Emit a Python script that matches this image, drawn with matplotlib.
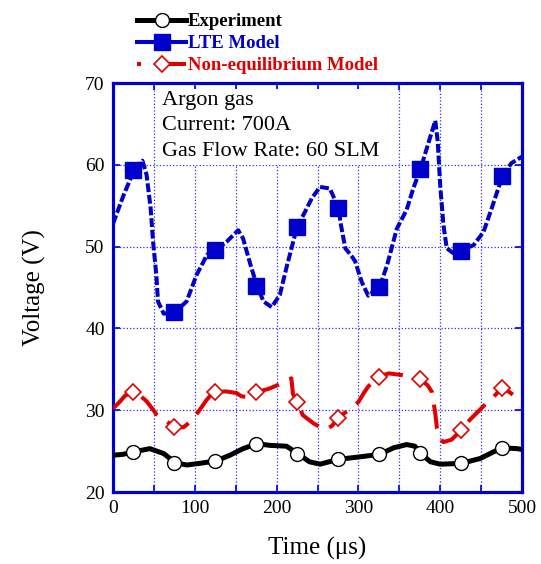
import matplotlib.pyplot as plt
from matplotlib.lines import Line2D
from matplotlib.patches import Rectangle

plt.rcParams['font.family'] = ['Liberation Serif', 'DejaVu Serif']

# ------------------------------
# Data
# ------------------------------
# Experiment (black, solid)
exp_t = [0, 12, 25, 45, 62, 76, 90, 106, 126, 143, 159, 176, 192, 212,
         226, 240, 253, 276, 302, 326, 343, 359, 369, 375, 388, 400, 426,
         449, 465, 476, 494, 500]
exp_v = [24.5, 24.6, 24.9, 25.3, 24.7, 23.6, 23.3, 23.5, 23.8, 24.5, 25.3, 25.9,
         25.7, 25.6, 24.7, 23.7, 23.4, 24.0, 24.3, 24.6, 25.4, 25.8, 25.6, 24.8,
         23.7, 23.4, 23.5, 24.1, 24.9, 25.4, 25.3, 25.2]

# LTE model (blue, dashed)
lte_t = [0, 13, 26, 36, 41, 46, 49, 53, 55, 62, 76, 90, 102, 115, 126, 139,
         153, 159, 168, 176, 184, 194, 204, 212, 225, 235, 243, 253, 265,
         276, 278, 284, 292, 296, 304, 312, 326, 335, 347, 359, 367, 376,
         386, 394, 397, 400, 404, 408, 416, 426, 441, 453, 463, 476, 487, 500]
lte_v = [52.8, 56.3, 59.4, 60.5, 58.8, 54.7, 50.6, 46.5, 43.3, 41.8, 42.0, 43.3,
         46.5, 49.0, 49.6, 50.6, 52.0, 51.0, 47.8, 45.2, 43.3, 42.6, 44.1, 47.4,
         52.4, 54.3, 55.9, 57.3, 57.1, 54.7, 53.0, 49.8, 48.8, 48.2, 45.7, 44.0,
         45.1, 47.7, 52.2, 54.5, 57.1, 59.5, 62.8, 65.4, 62.8, 57.5, 52.6, 49.8,
         49.2, 49.5, 50.2, 51.8, 54.7, 58.6, 60.2, 61.0]

# Non-equilibrium model (red, long dashes)
neq_t = [0, 8, 15, 25, 33, 41, 48, 53, 64, 75, 86, 96, 105, 114, 120, 125,
         138, 151, 157, 165, 175, 190, 202, 210, 218, 220, 225, 232, 245,
         259, 268, 275, 288, 300, 306, 312, 325, 337, 345, 353, 365, 376,
         385, 390, 394, 396, 400, 404, 414, 420, 425, 437, 449, 457, 465,
         475, 485, 490]
neq_v = [30.2, 31.0, 31.8, 32.2, 31.8, 31.1, 30.2, 29.5, 28.7, 28.0, 27.9, 28.7,
         29.9, 31.2, 31.9, 32.2, 32.3, 32.1, 31.7, 31.6, 32.2, 32.6, 33.1, 33.5,
         33.9, 32.0, 31.0, 29.4, 28.4, 27.6, 28.1, 29.1, 30.0, 31.0, 32.0, 32.9,
         34.1, 34.5, 34.4, 34.3, 34.1, 33.8, 33.0, 32.2, 29.6, 27.8, 26.5, 26.1,
         26.4, 27.0, 27.6, 28.9, 30.1, 30.9, 31.6, 32.7, 32.2, 31.8]

# symbol positions
mark_t = [25, 75, 125, 175, 225, 275, 325, 375, 425, 475]
exp_mark_v = [24.9, 23.6, 23.8, 25.9, 24.7, 24.0, 24.6, 24.8, 23.5, 25.4]
lte_mark_v = [59.4, 42.0, 49.6, 45.2, 52.4, 54.7, 45.1, 59.5, 49.5, 58.6]
neq_mark_v = [32.2, 28.0, 32.2, 32.2, 31.0, 29.1, 34.1, 33.8, 27.6, 32.7]

info_lines = ['Argon gas', 'Current: 700A', 'Gas Flow Rate: 60 SLM']

blue = '#0000cc'
red = '#e00000'

fig = plt.figure(figsize=(5.41, 5.64), dpi=100)
ax = fig.add_axes([113 / 541, 1 - 492 / 564, 409 / 541, 409 / 564])

# curves
ax.plot(exp_t, exp_v, color='black', lw=3.6, solid_capstyle='round', zorder=4)
ax.plot(lte_t, lte_v, color=blue, lw=2.9, dashes=(2.2, 0.7), zorder=4)
ax.plot(neq_t, neq_v, color=red, lw=2.9, dashes=(6, 3), zorder=4)

# symbols
ax.plot(mark_t, exp_mark_v, 'o', ms=10, mfc='white', mec='black', mew=1.0, zorder=5)
ax.plot(mark_t, lte_mark_v, 's', ms=11, mfc=blue, mec=blue, zorder=5)
ax.plot(mark_t, neq_mark_v, 'D', ms=8, mfc='white', mec=red, mew=1.2, zorder=5)

# axes styling
ax.set_xlim(0, 500)
ax.set_ylim(20, 70)
ax.set_xticks(range(0, 501, 50))
ax.set_xticklabels([str(v) if v % 100 == 0 else '' for v in range(0, 501, 50)])
ax.set_yticks(range(20, 71, 10))
ax.tick_params(direction='in', color=blue, length=5, width=1.2, top=True, right=True,
               labelsize=14, pad=6)
ax.grid(True, color='#2a2aff', linestyle=':', lw=0.9)
for sp in ax.spines.values():
    sp.set_color(blue)
    sp.set_linewidth(2.3)

ax.set_xlabel('Time (\u03bcs)', fontsize=18, labelpad=14)
ax.set_ylabel('Voltage (V)', fontsize=18, labelpad=28)

# white box behind the run conditions
ax.add_patch(Rectangle((0.108, 0.80), 0.56, 0.185, transform=ax.transAxes,
                       facecolor='white', edgecolor='none', zorder=3))
for i, line in enumerate(info_lines):
    ax.text(0.12, 0.958 - i * 0.063, line, transform=ax.transAxes, fontsize=16,
            va='center', ha='left', zorder=6)

# legend above the plot
handles = [
    Line2D([], [], color='black', lw=3.6, marker='o', ms=10, mfc='white', mec='black'),
    Line2D([], [], color=blue, lw=2.9, marker='s', ms=11, mfc=blue, mec=blue),
    Line2D([], [], color=red, lw=2.9, dashes=(1, 3.5, 10, 1), marker='D', ms=8,
           mfc='white', mec=red, mew=1.2),
]
fig.legend(handles, ['Experiment', 'LTE Model', 'Non-equilibrium Model'],
           loc='upper left', bbox_to_anchor=(128 / 541, 1 - 4 / 564),
           frameon=False, handlelength=2.6, handletextpad=0.1, labelspacing=0.25,
           borderpad=0, numpoints=1,
           prop={'weight': 'bold', 'size': 13.5},
           labelcolor=['black', blue, red])

fig.savefig('out.png', dpi=100)
